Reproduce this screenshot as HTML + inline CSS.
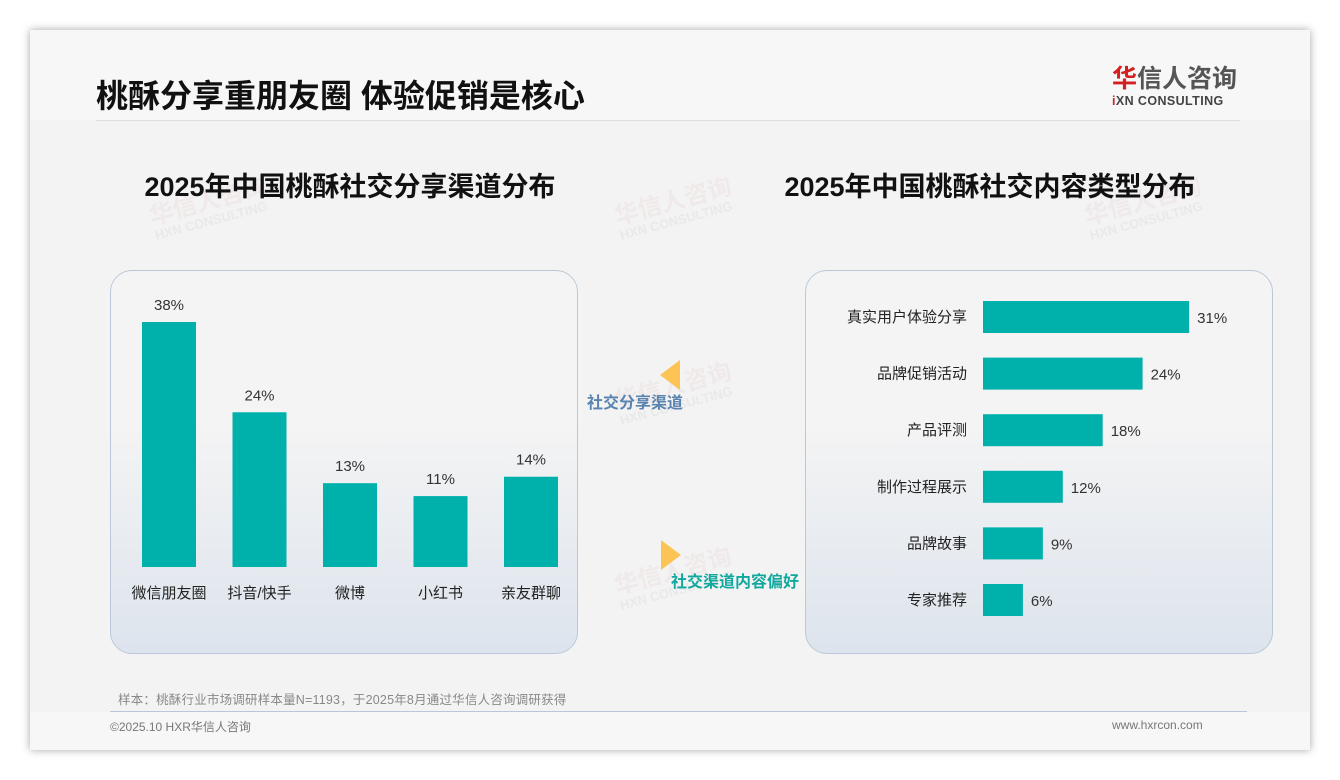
<!DOCTYPE html>
<html><head><meta charset="utf-8"><style>
body{margin:0;width:1340px;height:780px;background:#fff;font-family:"Liberation Sans","Noto Sans CJK SC",sans-serif;position:relative;overflow:hidden}
.slide{position:absolute;left:30px;top:30px;width:1280px;height:720px;background:#f3f3f3;box-shadow:0 0 8px rgba(0,0,0,.35)}
.abs{position:absolute}
.panel{position:absolute;top:270px;width:466px;height:382px;border:1.5px solid #b9c9d9;border-radius:22px;background:linear-gradient(#f4f4f4 40%,#dde4ed)}
.wm{position:absolute;color:rgba(210,80,80,.06);font-size:24px;font-weight:bold;transform:rotate(-15deg);line-height:1}
.wm small{display:block;font-size:13px;color:rgba(120,120,140,.08)}
</style></head><body>
<div class="slide">
<div class="abs" style="left:0;top:0;width:1280px;height:90px;background:#f7f7f7"></div>
<div class="abs" style="left:66px;top:46px;font-size:32px;font-weight:bold;color:#111;line-height:40px">桃酥分享重朋友圈 体验促销是核心</div>
<div class="abs" style="left:1082px;top:34px;font-size:25px;font-weight:bold;color:#555;line-height:30px"><span style="color:#d42020">华</span>信人咨询</div>
<div class="abs" style="left:1082px;top:64px;font-size:12.5px;font-weight:bold;color:#444;letter-spacing:.4px;line-height:15px"><span style="color:#d42020">i</span>XN CONSULTING</div>
<div class="abs" style="left:66px;top:90px;width:1144px;height:1px;background:#ddd"></div>
<div class="abs" style="left:0;top:682px;width:1280px;height:38px;background:#f7f7f7"></div>
<div class="abs" style="left:88px;top:659px;font-size:12.5px;color:#888;letter-spacing:.2px">样本：桃酥行业市场调研样本量N=1193，于2025年8月通过华信人咨询调研获得</div>
<div class="abs" style="left:80px;top:681px;width:1137px;height:1px;background:#b8c8d8"></div>
<div class="abs" style="left:80px;top:688px;font-size:12px;color:#777">©2025.10 HXR华信人咨询</div>
<div class="abs" style="left:1082px;top:688px;font-size:12px;color:#777">www.hxrcon.com</div>
</div>
<div class="wm" style="left:150px;top:190px">华信人咨询<small>HXN CONSULTING</small></div>
<div class="wm" style="left:615px;top:190px">华信人咨询<small>HXN CONSULTING</small></div>
<div class="wm" style="left:1085px;top:190px">华信人咨询<small>HXN CONSULTING</small></div>
<div class="wm" style="left:150px;top:375px">华信人咨询<small>HXN CONSULTING</small></div>
<div class="wm" style="left:615px;top:375px">华信人咨询<small>HXN CONSULTING</small></div>
<div class="wm" style="left:1085px;top:375px">华信人咨询<small>HXN CONSULTING</small></div>
<div class="wm" style="left:150px;top:560px">华信人咨询<small>HXN CONSULTING</small></div>
<div class="wm" style="left:615px;top:560px">华信人咨询<small>HXN CONSULTING</small></div>
<div class="wm" style="left:1085px;top:560px">华信人咨询<small>HXN CONSULTING</small></div>
<div class="abs" style="left:110px;top:165px;width:480px;text-align:center;font-size:27px;font-weight:bold;color:#111">2025年中国桃酥社交分享渠道分布</div>
<div class="abs" style="left:750px;top:165px;width:480px;text-align:center;font-size:27px;font-weight:bold;color:#111">2025年中国桃酥社交内容类型分布</div>
<div class="panel" style="left:110px"></div>
<div class="panel" style="left:805px"></div>
<div class="abs" style="left:660px;top:360px;width:0;height:0;border-top:15px solid transparent;border-bottom:15px solid transparent;border-right:20px solid #fcc455"></div>
<div class="abs" style="left:587px;top:389px;font-size:16px;font-weight:bold;color:#5a84b0">社交分享渠道</div>
<div class="abs" style="left:661px;top:540px;width:0;height:0;border-top:15px solid transparent;border-bottom:15px solid transparent;border-left:20px solid #fcc455"></div>
<div class="abs" style="left:671px;top:568px;font-size:16px;font-weight:bold;color:#11a89e">社交渠道内容偏好</div>
<svg id="chart" class="abs" style="left:0;top:0" width="1340" height="780"></svg>
<script>
const leftCats=["微信朋友圈","抖音/快手","微博","小红书","亲友群聊"];
const leftVals=[38,24,13,11,14];
const rightCats=["真实用户体验分享","品牌促销活动","产品评测","制作过程展示","品牌故事","专家推荐"];
const rightVals=[31,24,18,12,9,6];
const svg=document.getElementById('chart');const NS='http://www.w3.org/2000/svg';
function mk(t,a,txt){const e=document.createElementNS(NS,t);for(const k in a)e.setAttribute(k,a[k]);if(txt!=null)e.textContent=txt;svg.appendChild(e);return e;}
const base=567,ly=v=>base-v*6.447,lx=i=>169+i*90.5;
leftVals.forEach((v,i)=>{
 const r=mk('rect',{x:lx(i)-27,y:ly(v),width:54,height:base-ly(v),fill:'#00b0aa'});
 
 
 const t=mk('text',{x:lx(i),y:ly(v)-12,'text-anchor':'middle','font-size':15,fill:'#333'},v+'%');
 
 
 const c=mk('text',{x:lx(i),y:598,'text-anchor':'middle','font-size':15,fill:'#222'},leftCats[i]);
 
 
});
const x0=983,rx=v=>x0+v*6.65,ry=i=>317+i*56.6;
rightVals.forEach((v,i)=>{
 const r=mk('rect',{x:x0,y:ry(i)-16,width:rx(v)-x0,height:32,fill:'#00b0aa'});
 
 
 const t=mk('text',{x:rx(v)+8,y:ry(i)+6,'font-size':15,fill:'#333'},v+'%');
 
 
 const c=mk('text',{x:967,y:ry(i)+5,'text-anchor':'end','font-size':15,fill:'#222'},rightCats[i]);
 
 
});
</script>
</body></html>
